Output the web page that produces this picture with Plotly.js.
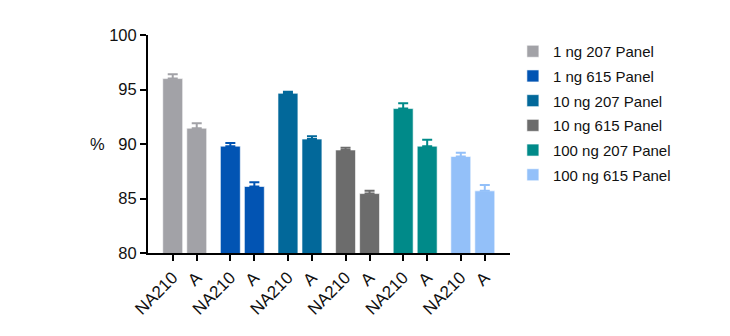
<!DOCTYPE html>
<html><head><meta charset="utf-8">
<script src="https://cdn.plot.ly/plotly-3.0.1.min.js"></script>
<style>html,body{margin:0;padding:0;background:#fff;}#chart{width:730px;height:336px;}</style>
</head><body><div id="chart"></div>
<script>
const seriesNames = ["1 ng 207 Panel","1 ng 615 Panel","10 ng 207 Panel","10 ng 615 Panel","100 ng 207 Panel","100 ng 615 Panel"];
const sampleLabels = ["NA210","A"];
const values = [
  [96.0, 91.45],
  [89.8, 86.1],
  [94.65, 90.45],
  [89.45, 85.45],
  [93.25, 89.8],
  [88.85, 85.7]
];
const errors = [
  [0.4, 0.45],
  [0.3, 0.4],
  [0.15, 0.25],
  [0.2, 0.25],
  [0.5, 0.6],
  [0.35, 0.55]
];
const colors = ["#A2A2A7","#0254B3","#02689A","#6C6C6C","#008A89","#93C0F9"];

const groupStep = 2.4;
const traces = [];
const tickvals = [], ticktext = [];
seriesNames.forEach((name, g) => {
  const xs = sampleLabels.map((s, i) => g * groupStep + i);
  xs.forEach((x, i) => { tickvals.push(x); ticktext.push(sampleLabels[i]); });
  traces.push({
    type: 'bar', name: name, legendgroup: 'g' + g, x: xs, y: values[g], width: 0.83,
    marker: {color: colors[g], line: {color: 'rgba(255,255,255,0.6)', width: 1}},
    error_y: {type: 'data', array: errors[g], symmetric: false, arrayminus: [0,0], color: colors[g], thickness: 2, width: 5}
  });
});

const layout = {
  width: 730, height: 336,
  margin: {l: 148, r: 220, t: 35, b: 83},
  barmode: 'overlay',
  showlegend: true,
  font: {family: 'Liberation Sans, Arial, sans-serif', color: '#111'},
  xaxis: {
    range: [-1.03, 14.05], tickvals: tickvals, ticktext: ticktext, tickangle: -45,
    showline: true, linecolor: '#000', linewidth: 2, ticks: 'outside', ticklen: 6, tickwidth: 2, tickcolor: '#000',
    showgrid: false, zeroline: false, tickfont: {size: 17, color: '#111'}
  },
  yaxis: {
    range: [80, 100], tickvals: [80,85,90,95,100], showline: true, linecolor: '#000', linewidth: 2,
    ticks: 'outside', ticklen: 6, tickwidth: 2, tickcolor: '#000', showgrid: false, zeroline: false,
    tickfont: {size: 16.5, color: '#111'}
  },
  legend: {x: 1.008, y: 1.0, xanchor: 'left', yanchor: 'top', font: {size: 15, color: '#111'}, tracegroupgap: 2.2, itemwidth: 30},
  annotations: [{text: '%', xref: 'paper', yref: 'paper', x: -0.14, y: 0.5, showarrow: false, font: {size: 16.5, color: '#111'}, xanchor: 'center', yanchor: 'middle'}]
};
Plotly.newPlot('chart', traces, layout, {displayModeBar: false, staticPlot: true});
</script></body></html>
